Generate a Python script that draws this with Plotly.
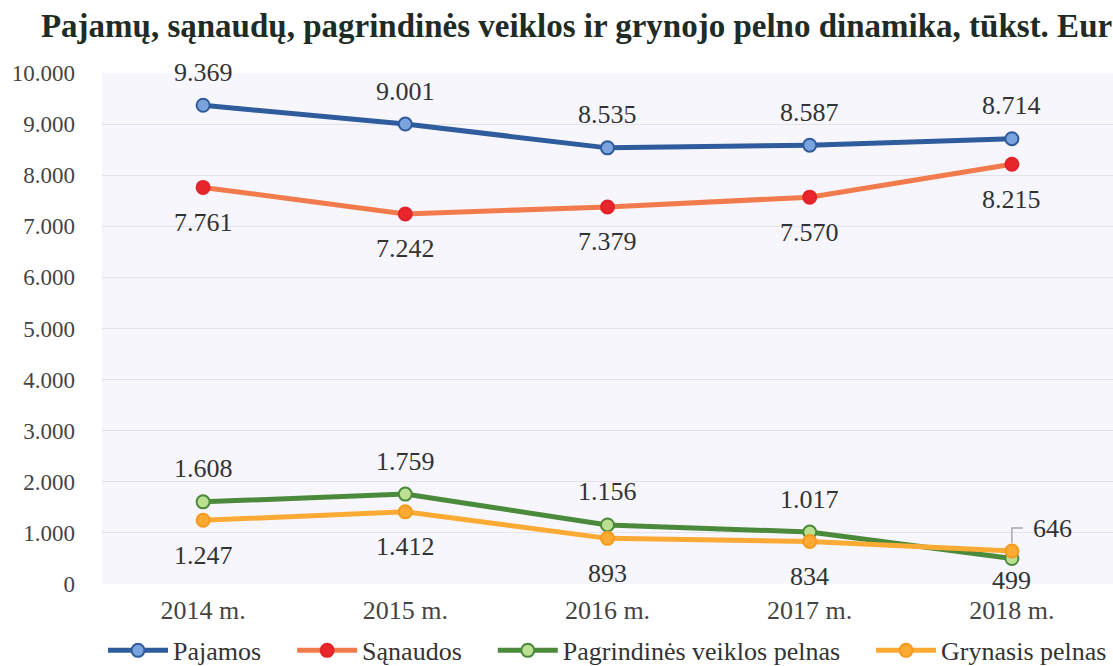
import plotly.graph_objects as go

years = ["2014 m.", "2015 m.", "2016 m.", "2017 m.", "2018 m."]
pajamos = [9369, 9001, 8535, 8587, 8714]
sanaudos = [7761, 7242, 7379, 7570, 8215]
pagr_pelnas = [1608, 1759, 1156, 1017, 499]
grynasis = [1247, 1412, 893, 834, 646]
y_ticks = [0, 1000, 2000, 3000, 4000, 5000, 6000, 7000, 8000, 9000, 10000]

def fmt(v):
    return f"{v:,}".replace(",", ".")

PAD = "\u00a0" * 4
series = [
    ("Pajamos", pajamos, "#2f5c9c", "#7ba4de", "#2f5c9c", 1, PAD),
    ("Sąnaudos", sanaudos, "#f27b4d", "#e8262b", "#e0242a", -1, PAD),
    ("Pagrindinės veiklos pelnas", pagr_pelnas, "#4b8a3b", "#bbe092", "#4b8a3b", 1, PAD),
    ("Grynasis pelnas", grynasis, "#fbab33", "#fbab33", "#f59a1e", -1, ""),
]

FONT = "Liberation Serif"
LBL = dict(family=FONT, size=26, color="#333333")
fig = go.Figure()
annotations = []
for name, vals, lc, mf, ml, side, pad in series:
    fig.add_trace(go.Scatter(
        x=years, y=vals, name=name + pad, mode="lines+markers",
        line=dict(color=lc, width=5),
        marker=dict(size=13, color=mf, line=dict(color=ml, width=2)),
        hoverinfo="x+y",
    ))
    for i, (xv, yv) in enumerate(zip(years, vals)):
        if name == "Grynasis pelnas" and i == 4:
            annotations.append(dict(x=xv, y=yv, xref="x", yref="y", text=fmt(yv),
                                    showarrow=False, xshift=41, yshift=22, font=LBL))
            continue
        if name == "Pagrindinės veiklos pelnas" and i == 4:
            shift = -22
        elif side > 0:
            shift = 33
        else:
            shift = -35
        annotations.append(dict(x=xv, y=yv, xref="x", yref="y", text=fmt(yv),
                                showarrow=False, yshift=shift, font=LBL))

fig.add_shape(type="path", xref="x", yref="y", xsizemode="pixel", ysizemode="pixel",
              xanchor=years[4], yanchor=grynasis[4],
              path="M 0 8 L 0 23 L 11 23", line=dict(color="#aaaaaa", width=1.5))

fig.update_layout(
    width=1113, height=666,
    margin=dict(l=102, r=0, t=73, b=82, autoexpand=False),
    paper_bgcolor="white", plot_bgcolor="#f6f6fc",
    separators=",.",
    title=dict(text="<b>Pajamų, sąnaudų, pagrindinės veiklos ir grynojo pelno dinamika, tūkst. Eur</b>",
               x=0.518, xanchor="center", y=0.962, yanchor="middle",
               font=dict(family=FONT, size=33, color="#1f2b25")),
    xaxis=dict(range=[-0.5, 4.5], showgrid=False, zeroline=False, showline=False, automargin=False,
               tickfont=dict(family=FONT, size=26, color="#444444"), ticks="", ticklabelstandoff=8),
    yaxis=dict(range=[0, 10000], tickvals=y_ticks, tickformat=",d", showgrid=True, automargin=False,
               gridcolor="#e3e3eb", gridwidth=1, zeroline=False, showline=False,
               tickfont=dict(family=FONT, size=23, color="#444444"), ticks="", ticklabelstandoff=26),
    legend=dict(orientation="h", x=0.5, xanchor="center", y=-0.13, yanchor="middle",
                font=dict(family=FONT, size=26, color="#333333"), itemwidth=60,
                traceorder="normal"),
    annotations=annotations,
    showlegend=True,
)
fig.write_html("out.html", config={"displayModeBar": False},
               post_script="document.body.style.margin='0px';")
